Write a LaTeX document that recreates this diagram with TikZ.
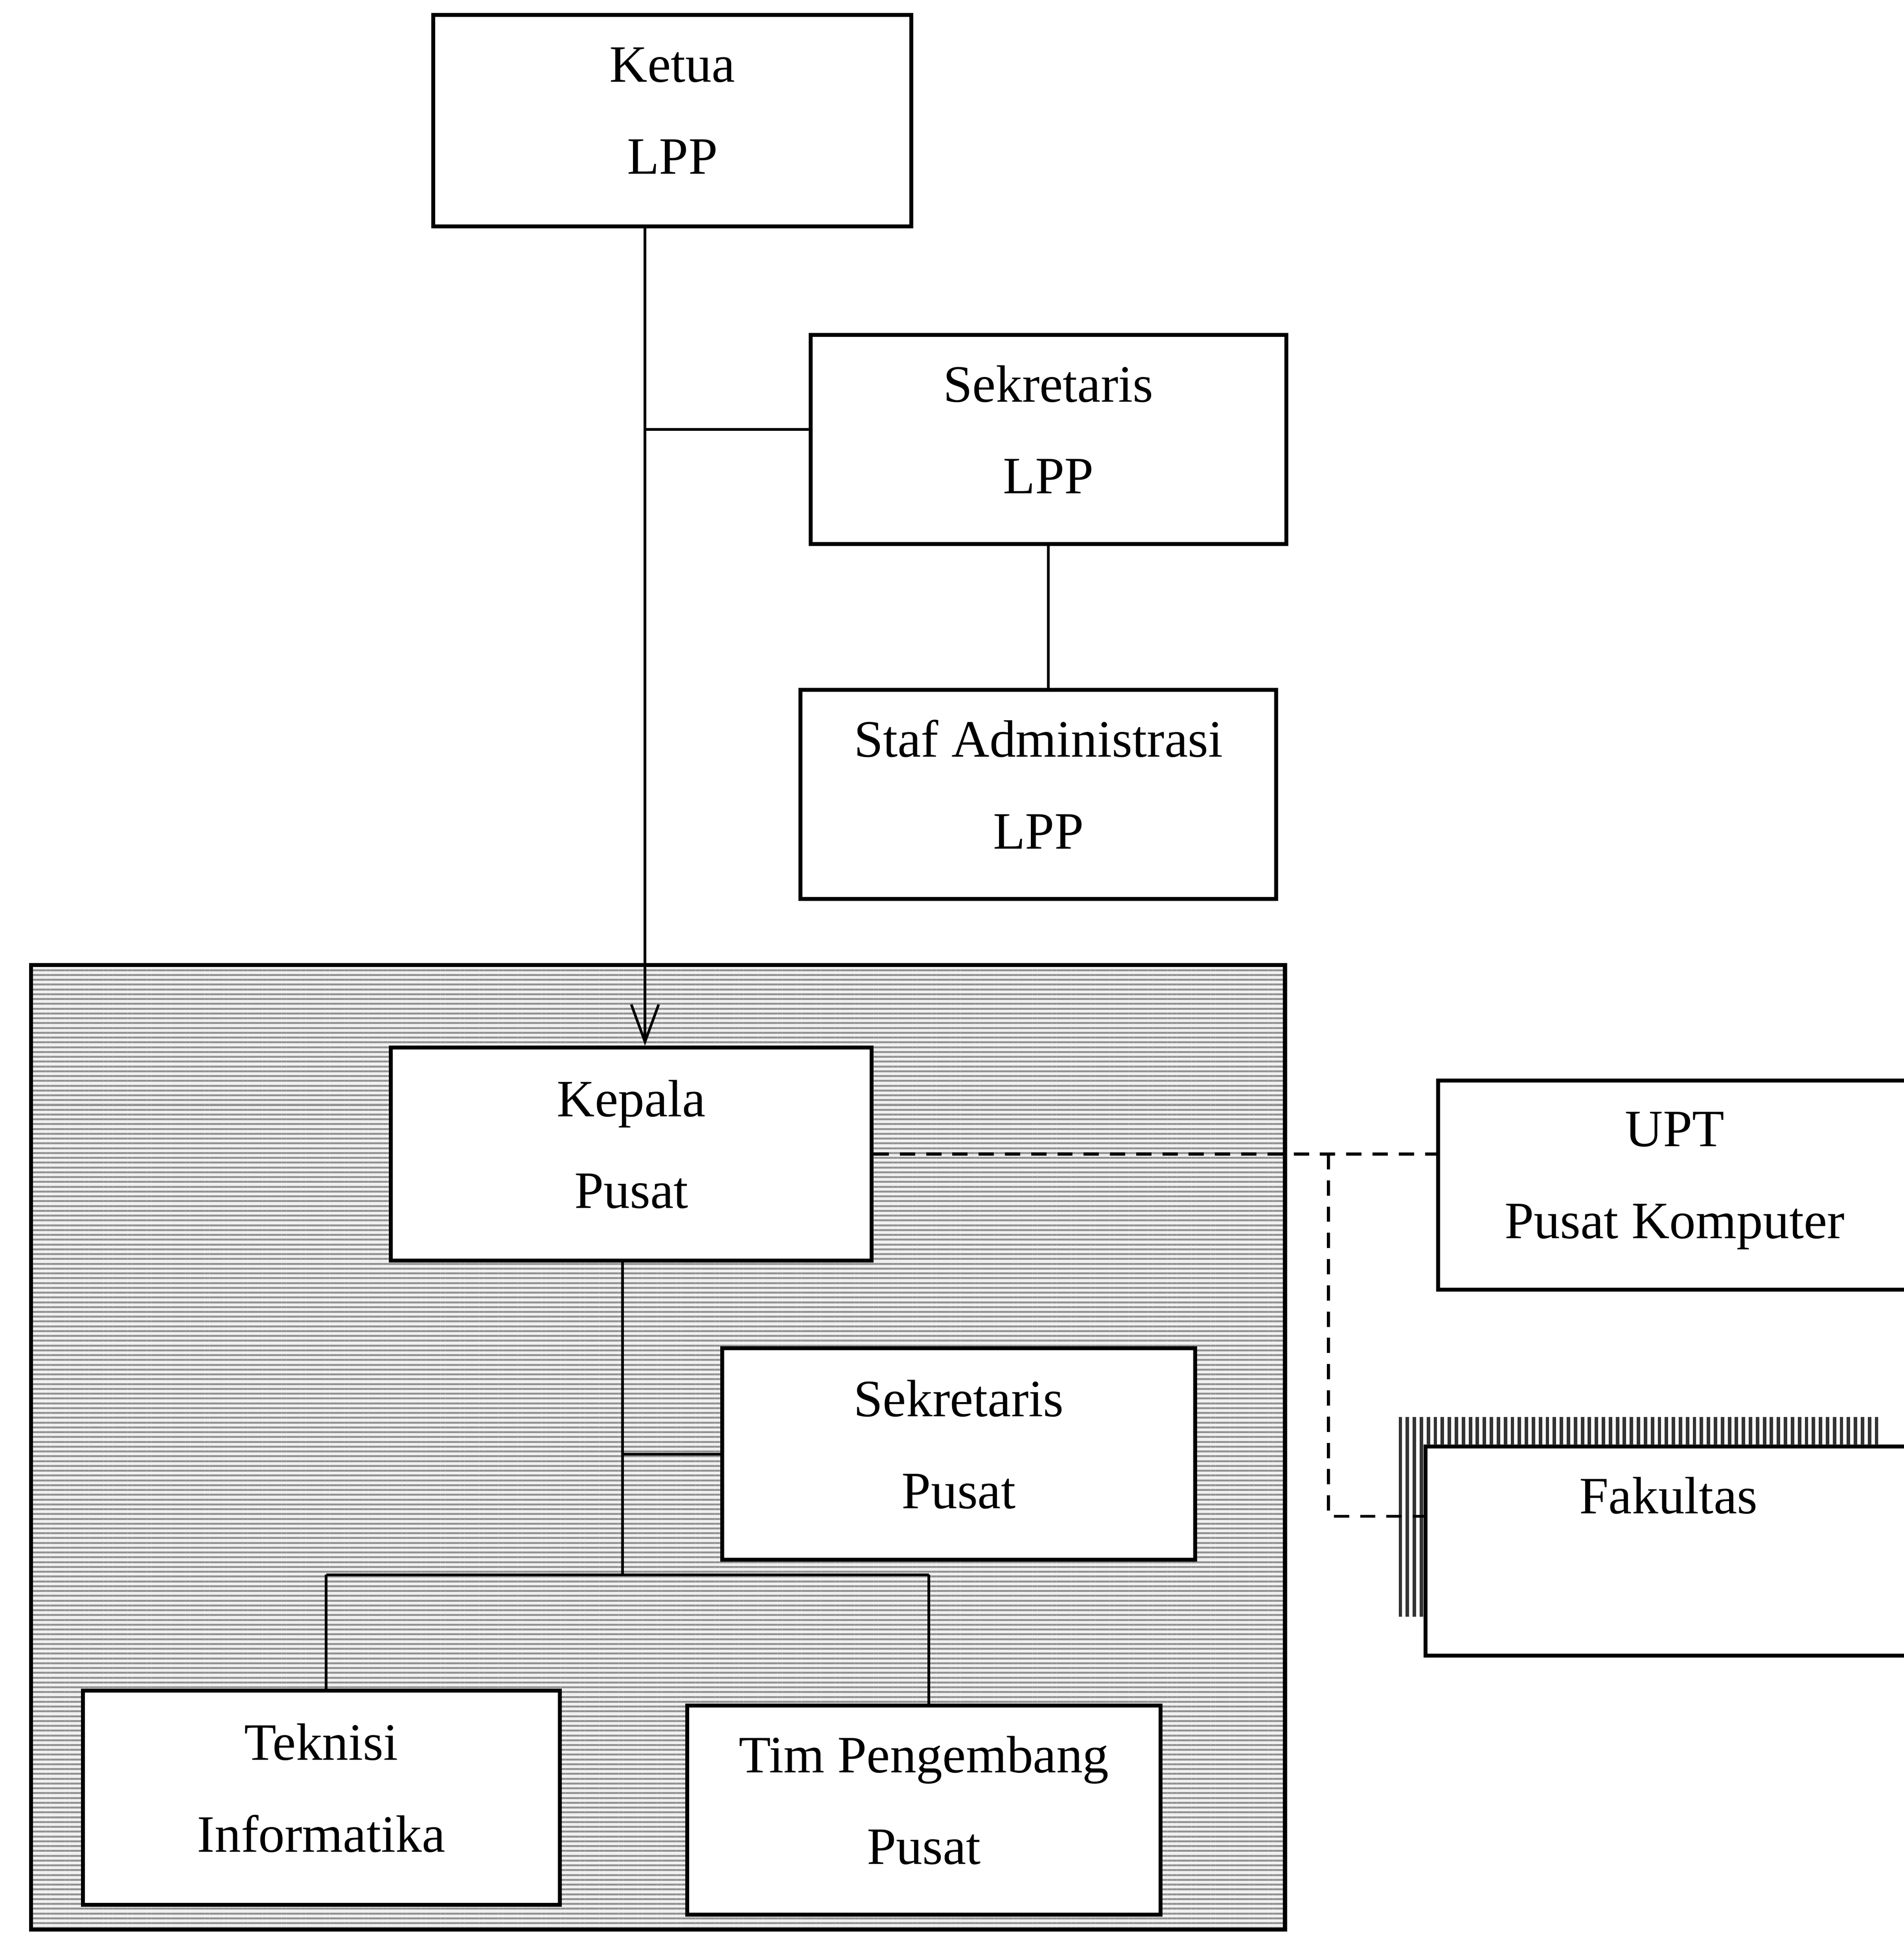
\documentclass[tikz,border=0pt]{standalone}
\usepackage{fontspec}
\setmainfont{Liberation Serif}
\usetikzlibrary{arrows.meta,patterns.meta}
\begin{document}
\begin{tikzpicture}[font=\fontsize{12}{21}\selectfont]
  \tikzstyle{box}=[draw,fill=white,line width=0.9pt,align=center,inner sep=0pt,text depth=0.16cm,minimum width=3.82cm,minimum height=1.68cm]
  \tikzstyle{link}=[line width=0.6pt]
  \tikzstyle{dash line}=[line width=0.7pt,dash pattern=on 3.5pt off 2.5pt]
  \tikzstyle{hatch}=[pattern={Lines[angle=90,distance=1.6pt,line width=0.8pt]},pattern color=black!80]
  \useasboundingbox (0,0) rectangle (15.29,-15.68);

  \fill[preaction={fill=gray!12},pattern={Lines[angle=0,distance=1.1pt,line width=0.45pt]},pattern color=gray!85]
      (0.25,-7.75) rectangle (10.32,-15.50);
  \draw[line width=0.9pt] (0.25,-7.75) rectangle (10.32,-15.50);

  \node(ketua)[box,minimum width=3.84cm,minimum height=1.70cm] at (5.40,-0.97) {Ketua\\LPP};
  \node(sekretaris)[box] at (8.42,-3.53) {Sekretaris\\LPP};
  \node(staf)[box] at (8.34,-6.38) {Staf Administrasi\\LPP};
  \node(kepala)[box,minimum width=3.86cm,minimum height=1.71cm] at (5.07,-9.27) {Kepala\\Pusat};
  \node(sekpusat)[box,minimum width=3.80cm,minimum height=1.70cm] at (7.70,-11.68) {Sekretaris\\Pusat};
  \node(teknisi)[box,minimum width=3.83cm,minimum height=1.72cm] at (2.58,-14.44) {Teknisi\\Informatika};
  \node(tim)[box,minimum width=3.80cm] at (7.42,-14.54) {Tim Pengembang\\Pusat};
  \node(upt)[box,minimum width=3.80cm] at (13.45,-9.52) {UPT\\Pusat Komputer};
  \node(fakultas)[box,minimum width=3.90cm] at (13.40,-12.46) {Fakultas\\~};

  \fill[hatch] (fakultas.north west) ++(-0.17,0.22) rectangle ++(3.82,-0.22);
  \fill[hatch] (fakultas.north west) ++(-0.20,0.22) rectangle ++(0.20,-1.60);

  \coordinate (spine) at (5.18,-3.45);
  \draw[link,-{Straight Barb[length=3mm,width=2.2mm]}] (ketua.south -| spine) -- (kepala.north -| spine);
  \draw[link] (spine) -- (spine -| sekretaris.west);
  \draw[link] (sekretaris.south) -- (sekretaris.south |- staf.north);

  \coordinate (bar) at (5.00,-12.65);
  \coordinate (barL) at (2.62,-12.65);
  \coordinate (barR) at (7.46,-12.65);
  \draw[link] (kepala.south -| bar) -- (bar);
  \draw[link] (bar |- sekpusat.west) -- (sekpusat.west);
  \draw[link] (barL) -- (barR);
  \draw[link] (barL) -- (barL |- teknisi.north);
  \draw[link] (barR) -- (barR |- tim.north);

  \coordinate (fork) at (10.67,-9.27);
  \coordinate (fak) at (10.67,-12.18);
  \draw[dash line] (kepala.east) -- (kepala.east -| upt.west);
  \draw[dash line] (fork) -- (fak) -- (fak -| fakultas.west);
\end{tikzpicture}
\end{document}
